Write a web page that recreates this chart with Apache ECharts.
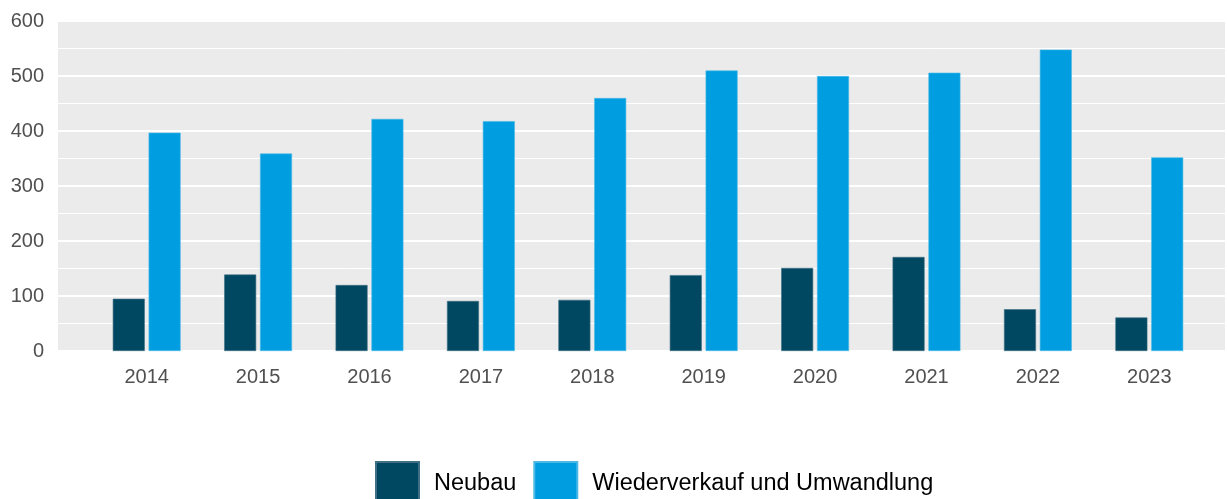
<!DOCTYPE html>
<html>
<head>
<meta charset="utf-8">
<script src="https://cdn.jsdelivr.net/npm/echarts@6/dist/echarts.min.js"></script>
<style>
  html, body { margin: 0; padding: 0; background: #fff; }
  #main { width: 1227px; height: 499px; }
</style>
</head>
<body>
<div id="main"></div>
<script>
var years = ['2014', '2015', '2016', '2017', '2018', '2019', '2020', '2021', '2022', '2023'];
var neubau = [95, 139, 120, 91, 93, 138, 151, 171, 76, 61];
var wiederverkauf = [397, 359, 422, 418, 460, 510, 500, 506, 548, 352];
var yTicks = [0, 100, 200, 300, 400, 500, 600];

var myChart = echarts.init(document.getElementById('main'));

var labelFont = {
    color: '#505050',
    fontSize: 20,
    fontFamily: 'Liberation Sans, Arial, sans-serif'
};

var option = {
    animation: false,
    // grid 0 = grauer Hintergrund mit Linien, grid 1 = Balken
    grid: [
        { left: 58, right: 2, top: 21, bottom: 148, show: true, backgroundColor: '#ebebeb', borderWidth: 0 },
        { left: 91, right: 22, top: 21, bottom: 148 }
    ],
    legend: {
        left: 375,
        top: 461,
        padding: 0,
        itemWidth: 43,
        itemHeight: 43,
        itemGap: 17,
        icon: 'rect',
        textStyle: {
            color: '#000',
            fontSize: 23.5,
            fontFamily: 'Liberation Sans, Arial, sans-serif',
            padding: [0, 0, 0, 10]
        },
        data: ['Neubau', 'Wiederverkauf und Umwandlung']
    },
    xAxis: [
        { gridIndex: 0, type: 'value', show: false, min: 0, max: 1 },
        {
            gridIndex: 1,
            type: 'category',
            data: years,
            axisLine: { show: false },
            axisTick: { show: false },
            axisLabel: Object.assign({ margin: 16 }, labelFont)
        }
    ],
    yAxis: [
        {
            gridIndex: 0,
            type: 'value',
            min: yTicks[0],
            max: yTicks[yTicks.length - 1],
            interval: 100,
            axisLine: { show: false },
            axisTick: { show: false },
            axisLabel: Object.assign({ margin: 14 }, labelFont),
            splitLine: { lineStyle: { color: '#ffffff', width: 2 } },
            minorTick: { show: false, splitNumber: 2 },
            minorSplitLine: { show: true, lineStyle: { color: '#ffffff', width: 1 } }
        },
        {
            gridIndex: 1,
            type: 'value',
            min: yTicks[0],
            max: yTicks[yTicks.length - 1],
            show: false,
            splitLine: { show: false }
        }
    ],
    series: [
        {
            name: 'Neubau',
            type: 'bar',
            xAxisIndex: 1,
            yAxisIndex: 1,
            data: neubau,
            barWidth: 32,
            barGap: '12%',
            itemStyle: { color: '#004862', borderColor: '#3f6f84', borderWidth: 0.6 }
        },
        {
            name: 'Wiederverkauf und Umwandlung',
            type: 'bar',
            xAxisIndex: 1,
            yAxisIndex: 1,
            data: wiederverkauf,
            barWidth: 32,
            barGap: '12%',
            itemStyle: { color: '#009ee0', borderColor: '#4cb8e6', borderWidth: 0.6 }
        }
    ]
};

myChart.setOption(option);
</script>
</body>
</html>
